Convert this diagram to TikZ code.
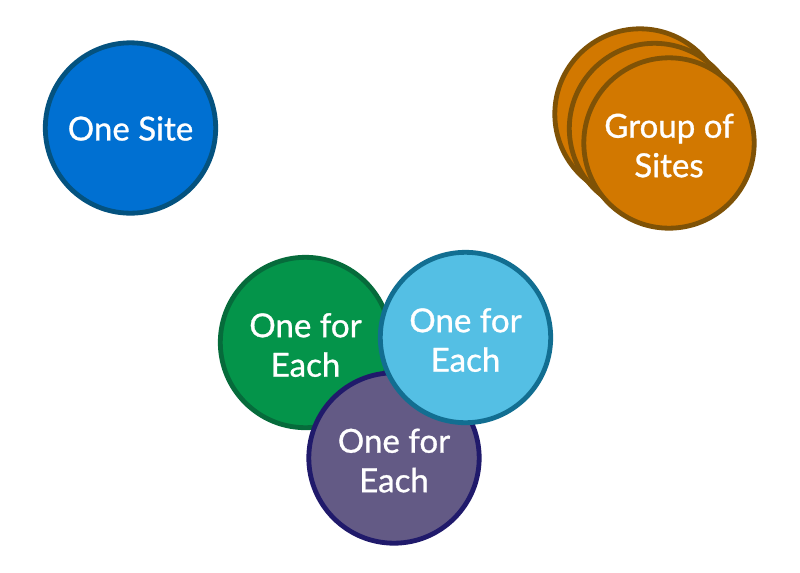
\documentclass[tikz,border=0pt]{standalone}
\usepackage{fontspec}
\setmainfont[FakeBold=0.9]{Lato}
\definecolor{cblue}{HTML}{0070D2}\definecolor{cblueb}{HTML}{04527F}
\definecolor{corange}{HTML}{D27800}\definecolor{corangeb}{HTML}{7F5206}
\definecolor{cgreen}{HTML}{04944A}\definecolor{cgreenb}{HTML}{066B3B}
\definecolor{csky}{HTML}{54BFE4}\definecolor{cskyb}{HTML}{126E91}
\definecolor{cpurple}{HTML}{635A85}\definecolor{cpurpleb}{HTML}{201A6B}
\tikzset{
  disc/.style={circle,draw=#1b,fill=#1,line width=3.6pt,minimum size=127.8pt,inner sep=0pt,outer sep=0pt},
  disctext/.style={text=white,align=center,inner sep=0pt,yshift=-1.9pt,font=\fontsize{24.8pt}{29.6pt}\selectfont},
}
\begin{document}
\begin{tikzpicture}[x=0.75pt,y=-0.75pt]
\useasboundingbox (0,0) rectangle (800,572);
\node[disc=cblue,label={[disctext,yshift=1.5pt]center:One Site}] (site) at (130.5,128) {};
\node[disc=corange] (groupc) at (640,114) {};
\node[disc=corange] (groupb) at (654.5,128.5) {};
\node[disc=corange,label={[disctext]center:Group of\\Sites}] (groupa) at (669,143) {};
\node[disc=cgreen,label={[disctext]center:One for\\Each}] (green) at (305.5,342.5) {};
\node[disc=cpurple,label={[disctext]center:One for\\Each}] (purple) at (394,458) {};
\node[disc=csky,label={[disctext]center:One for\\Each}] (sky) at (465.5,337.5) {};
\end{tikzpicture}
\end{document}
